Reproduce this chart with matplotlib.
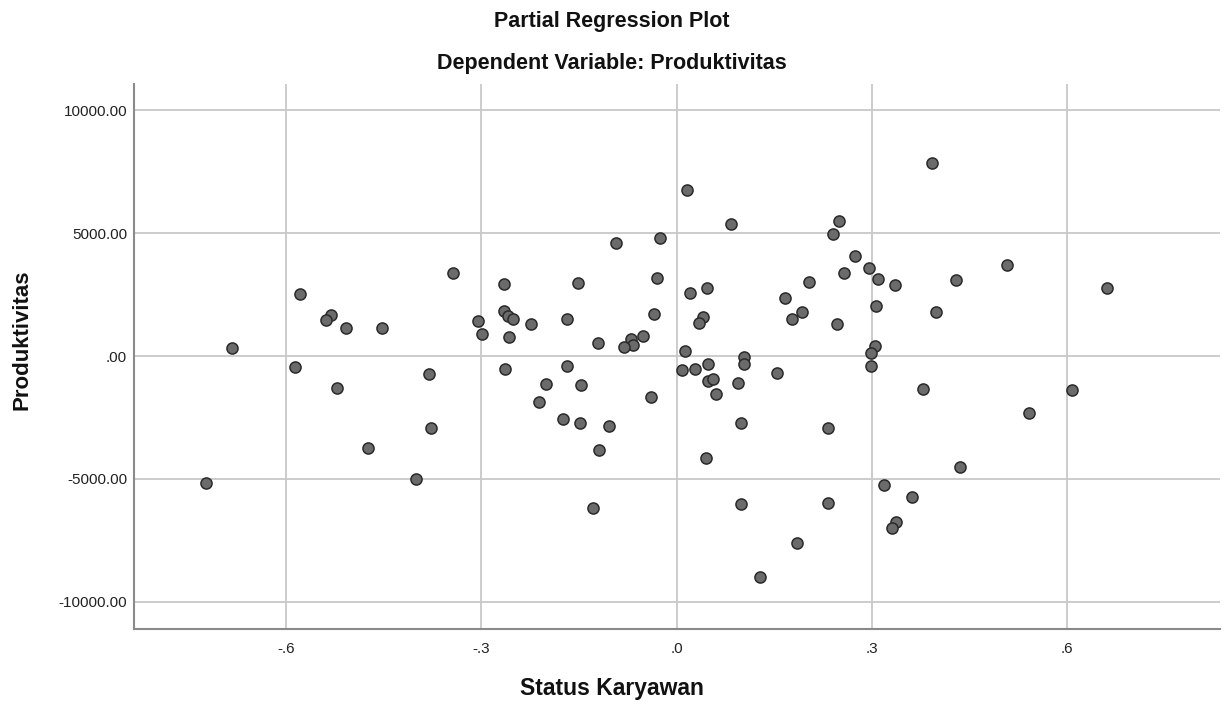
import matplotlib
matplotlib.use("Agg")
import matplotlib.pyplot as plt
import numpy as np

plt.rcParams['font.family'] = ['Liberation Sans', 'DejaVu Sans']

# partial residuals
status = [-0.684, -0.723, -0.579, -0.531, -0.539, -0.508, -0.453, -0.586, -0.522, -0.381,
          -0.377, -0.474, -0.400, -0.343, -0.266, -0.305, -0.299, -0.266, -0.259, -0.251,
          -0.258, -0.224, -0.169, -0.152, -0.121, -0.093, -0.026, -0.030, -0.035, -0.070,
          -0.067, -0.081, -0.051, 0.016, 0.021, 0.046, 0.040, 0.035, 0.013, -0.264,
          -0.169, -0.201, -0.147, -0.211, -0.175, -0.149, -0.104, -0.119, -0.129, -0.040,
          0.008, 0.028, 0.048, 0.048, 0.056, 0.060, 0.045, 0.084, 0.250, 0.240,
          0.274, 0.295, 0.309, 0.336, 0.257, 0.203, 0.166, 0.193, 0.178, 0.307,
          0.247, 0.392, 0.429, 0.398, 0.305, 0.298, 0.104, 0.104, 0.298, 0.094,
          0.154, 0.099, 0.233, 0.099, 0.233, 0.185, 0.128, 0.379, 0.435, 0.318,
          0.361, 0.337, 0.331, 0.507, 0.662, 0.607, 0.542]
produktivitas = [317, -5159, 2530, 1676, 1485, 1159, 1147, -427, -1310, -724,
                 -2937, -3735, -4996, 3384, 2949, 1444, 915, 1851, 1619, 1497,
                 765, 1310, 1497, 2962, 549, 4577, 4780, 3165, 1700, 700,
                 468, 358, 806, 6733, 2543, 2746, 1595, 1363, 211, -508,
                 -414, -1119, -1187, -1851, -2543, -2706, -2827, -3817, -6177, -1648,
                 -563, -508, -305, -1010, -928, -1538, -4157, 5350, 5500, 4943,
                 4076, 3588, 3140, 2896, 3356, 3018, 2353, 1770, 1512, 2054,
                 1310, 7843, 3071, 1810, 399, 114, -33, -317, -386, -1106,
                 -671, -2719, -2937, -6028, -5988, -7600, -8982, -1322, -4523, -5256,
                 -5744, -6760, -6977, 3695, 2774, -1363, -2327]

xticks = [-0.6, -0.3, 0.0, 0.3, 0.6]
xtick_labels = ['-.6', '-.3', '.0', '.3', '.6']
yticks = [10000, 5000, 0, -5000, -10000]
ytick_labels = ['10000.00', '5000.00', '.00', '-5000.00', '-10000.00']

fig = plt.figure(figsize=(12.24, 7.09), dpi=100)
ax = fig.add_axes([0.1095, 0.1128, 0.8872, 0.7687])

ax.scatter(status, produktivitas, s=64, color='#6b6b6b', edgecolor='#2a2a2a',
           linewidth=1.1, zorder=3)

ax.set_xlim(-0.834, 0.835)
ax.set_ylim(-11100, 11060)
ax.set_xticks(xticks)
ax.set_xticklabels(xtick_labels)
ax.set_yticks(yticks)
ax.set_yticklabels(ytick_labels)
ax.tick_params(length=0, labelsize=11, colors='#222222')
ax.tick_params(axis='x', pad=9)
ax.tick_params(axis='y', pad=5)

ax.grid(True, color='#c8c8c8', linewidth=1.3)
ax.set_axisbelow(True)
for side in ['top', 'right']:
    ax.spines[side].set_visible(False)
for side in ['left', 'bottom']:
    ax.spines[side].set_color('#8a8a8a')
    ax.spines[side].set_linewidth(1.5)

fig.text(0.5, 1 - 22 / 709, 'Partial Regression Plot', ha='center', va='center',
         fontsize=15.5, fontweight='bold', color='#111111')
fig.text(0.5, 1 - 64 / 709, 'Dependent Variable: Produktivitas', ha='center', va='center',
         fontsize=15.5, fontweight='bold', color='#111111')
fig.text(0.5, 1 - 689 / 709, 'Status Karyawan', ha='center', va='center',
         fontsize=16.5, fontweight='bold', color='#111111')
fig.text(22 / 1224, 1 - 340 / 709, 'Produktivitas', ha='center', va='center',
         rotation=90, fontsize=16, fontweight='bold', color='#111111')

fig.savefig('out.png', dpi=100)
